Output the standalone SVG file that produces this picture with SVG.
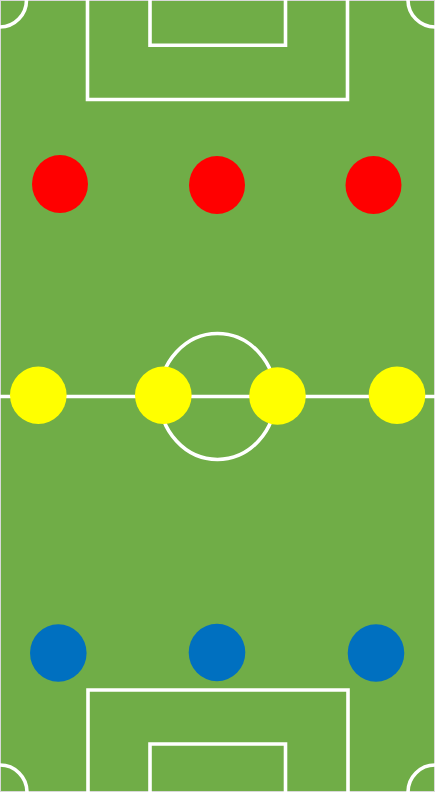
<svg xmlns="http://www.w3.org/2000/svg" width="435" height="792" viewBox="0 0 435 792">
  <style>
    .line { fill: none; stroke: #FFFFFF; stroke-width: 3.6; }
    .red { fill: #FF0000; }
    .yellow { fill: #FFFF00; }
    .blue { fill: #0070C0; }
  </style>
  <g id="pitch">
    <rect x="0" y="0" width="435" height="792" fill="#70AD47"/>
    <rect x="0.5" y="0.5" width="434" height="791" fill="none" stroke="#D9D9D9" stroke-width="1"/>
    <line class="line" x1="0" y1="396.5" x2="435" y2="396.5"/>
    <ellipse class="line" cx="217.5" cy="396.5" rx="58" ry="63"/>
    <path class="line" d="M87.5 0 V99.5 H347.5 V0"/>
    <path class="line" d="M150 0 V45.3 H285.5 V0"/>
    <path class="line" d="M88 792 V690 H348 V792"/>
    <path class="line" d="M150 792 V744 H285.5 V792"/>
    <path class="line" d="M26.5 0 A26.5 27 0 0 1 0 27"/>
    <path class="line" d="M408 0 A27 27 0 0 0 435 27"/>
    <path class="line" d="M0 765 A27 27 0 0 1 27 792"/>
    <path class="line" d="M408 792 A27 27 0 0 1 435 765"/>
  </g>
  <g id="red-players">
    <ellipse id="red-1" class="red" cx="60" cy="184" rx="28" ry="29"/>
    <ellipse id="red-2" class="red" cx="217" cy="185" rx="28" ry="29"/>
    <ellipse id="red-3" class="red" cx="373.5" cy="185" rx="28" ry="29"/>
  </g>
  <g id="yellow-players">
    <ellipse id="yellow-1" class="yellow" cx="38.3" cy="395.3" rx="28.3" ry="28.7"/>
    <ellipse id="yellow-2" class="yellow" cx="163.3" cy="395.3" rx="28.3" ry="28.7"/>
    <ellipse id="yellow-3" class="yellow" cx="277.5" cy="396" rx="28.3" ry="28.7"/>
    <ellipse id="yellow-4" class="yellow" cx="397" cy="395.3" rx="28.3" ry="28.7"/>
  </g>
  <g id="blue-players">
    <ellipse id="blue-1" class="blue" cx="58.3" cy="653" rx="28.3" ry="28.7"/>
    <ellipse id="blue-2" class="blue" cx="217" cy="652.5" rx="28.3" ry="28.7"/>
    <ellipse id="blue-3" class="blue" cx="376" cy="653" rx="28.3" ry="28.7"/>
  </g>
</svg>
